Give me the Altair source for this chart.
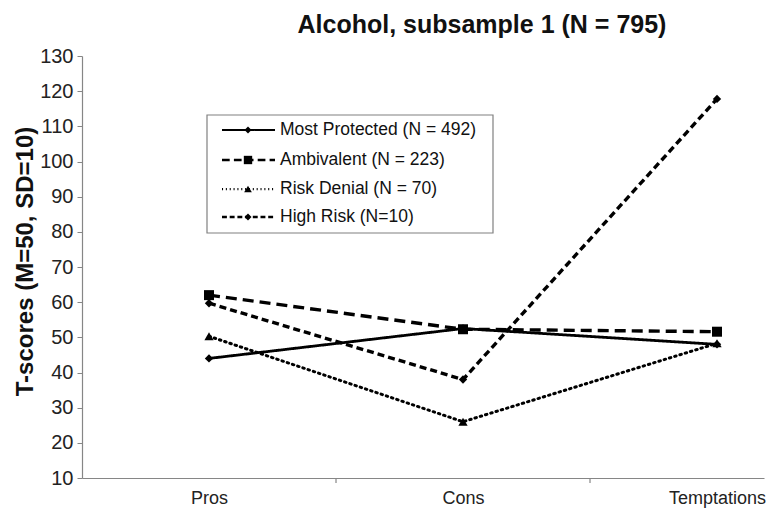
import altair as alt
import pandas as pd

categories = ["Pros", "Cons", "Temptations"]
groups = ["Most Protected (N = 492)", "Ambivalent (N = 223)", "Risk Denial (N = 70)", "High Risk (N=10)"]
most_protected = [44.0, 52.5, 48.0]
ambivalent = [62.0, 52.3, 51.6]
risk_denial = [50.3, 26.0, 48.3]
high_risk = [59.7, 38.0, 117.8]
y_ticks = list(range(10, 131, 10))

series_values = [most_protected, ambivalent, risk_denial, high_risk]
styles = [
    dict(dash=[1, 0], width=2.8, shape="diamond", size=70),
    dict(dash=[11, 6], width=3.4, shape="square", size=100),
    dict(dash=[1.5, 4], width=3.0, shape="triangle-up", size=85),
    dict(dash=[7, 4], width=3.4, shape="diamond", size=70),
]

W, H = 682, 422
FONT = "Liberation Sans"

rows = []
for g, vals in zip(groups, series_values):
    for i, v in enumerate(vals):
        rows.append({"group": g, "idx": i, "cat": categories[i], "value": v})
df = pd.DataFrame(rows)

label_expr = " : ".join(
    [f"datum.value == {i} ? '{c}'" for i, c in enumerate(categories)]
) + " : ''"

xscale = alt.Scale(domain=[-0.5, 2.185], nice=False, zero=False)
yscale = alt.Scale(domain=[10, 130], nice=False, zero=False)

xaxis = alt.Axis(values=list(range(len(categories))), labelExpr=label_expr, ticks=False,
                 grid=False, title=None, labelFontSize=18, labelFont=FONT, labelColor="#222222",
                 labelPadding=11, domainColor="#868686", domainWidth=1.2)
yaxis = alt.Axis(values=y_ticks, grid=False, title="T-scores (M=50, SD=10)", titleFontSize=24,
                 titleFont=FONT, titleFontWeight="bold", titleColor="#111111",
                 titleX=-57, titleY=H / 2 - 6, titleAngle=-90, titleBaseline="middle", titleAlign="center",
                 labelFontSize=20, labelFont=FONT, labelColor="#222222", labelPadding=4,
                 tickSize=5, tickColor="#868686", domainColor="#868686", domainWidth=1.2)

X = alt.X("idx:Q", scale=xscale, axis=xaxis)
Y = alt.Y("value:Q", scale=yscale, axis=yaxis)

layers = []
for k, (g, st) in enumerate(zip(groups, styles)):
    base = alt.Chart(df).transform_filter(alt.datum.group == g)
    line = base.mark_line(color="black", strokeWidth=st["width"], strokeDash=st["dash"],
                          strokeCap="butt" if k != 2 else "round").encode(x=X, y=Y)
    pts = base.mark_point(shape=st["shape"], size=st["size"], filled=True, color="black",
                          opacity=1).encode(x=X, y=Y)
    layers += [line, pts]

# category boundary tick marks
bounds = pd.DataFrame({"idx": [i + 0.5 for i in range(len(categories) - 1)]})
ticks = alt.Chart(bounds).mark_rule(color="#868686", strokeWidth=1.2).encode(
    x=X, y=alt.value(H), y2=alt.value(H + 5))
layers.append(ticks)

one = pd.DataFrame({"a": [0]})
# title
layers.append(alt.Chart(one).mark_text(text="Alcohol, subsample 1 (N = 795)", font=FONT, fontSize=25,
                                       fontWeight="bold", color="#111111", baseline="middle",
                                       align="center").encode(x=alt.value(400), y=alt.value(-31)))
# legend box
layers.append(alt.Chart(one).mark_rect(fill="white", stroke="#808080", strokeWidth=1.2).encode(
    x=alt.value(125), x2=alt.value(411), y=alt.value(59), y2=alt.value(177)))
row_y = [74, 104, 133, 161]
for g, st, ry in zip(groups, styles, row_y):
    layers.append(alt.Chart(one).mark_rule(color="black", strokeWidth=st["width"] * 0.75,
                                           strokeDash=[d * 0.7 for d in st["dash"]]).encode(
        x=alt.value(140), x2=alt.value(193), y=alt.value(ry)))
    layers.append(alt.Chart(one).mark_point(shape=st["shape"], size=st["size"] * 0.7, filled=True,
                                            color="black", opacity=1).encode(
        x=alt.value(166), y=alt.value(ry)))
    layers.append(alt.Chart(one).mark_text(text=g, font=FONT, fontSize=17.5, color="#111111",
                                           align="left", baseline="middle").encode(
        x=alt.value(198), y=alt.value(ry)))

chart = alt.layer(*layers).properties(
    width=W, height=H, background="white",
    autosize=alt.AutoSizeParams(type="none"),
    padding={"left": 74, "top": 48, "right": 2, "bottom": 30},
).configure_view(stroke=None)

chart.save("out.html", embed_options={"renderer": "svg", "actions": False})
